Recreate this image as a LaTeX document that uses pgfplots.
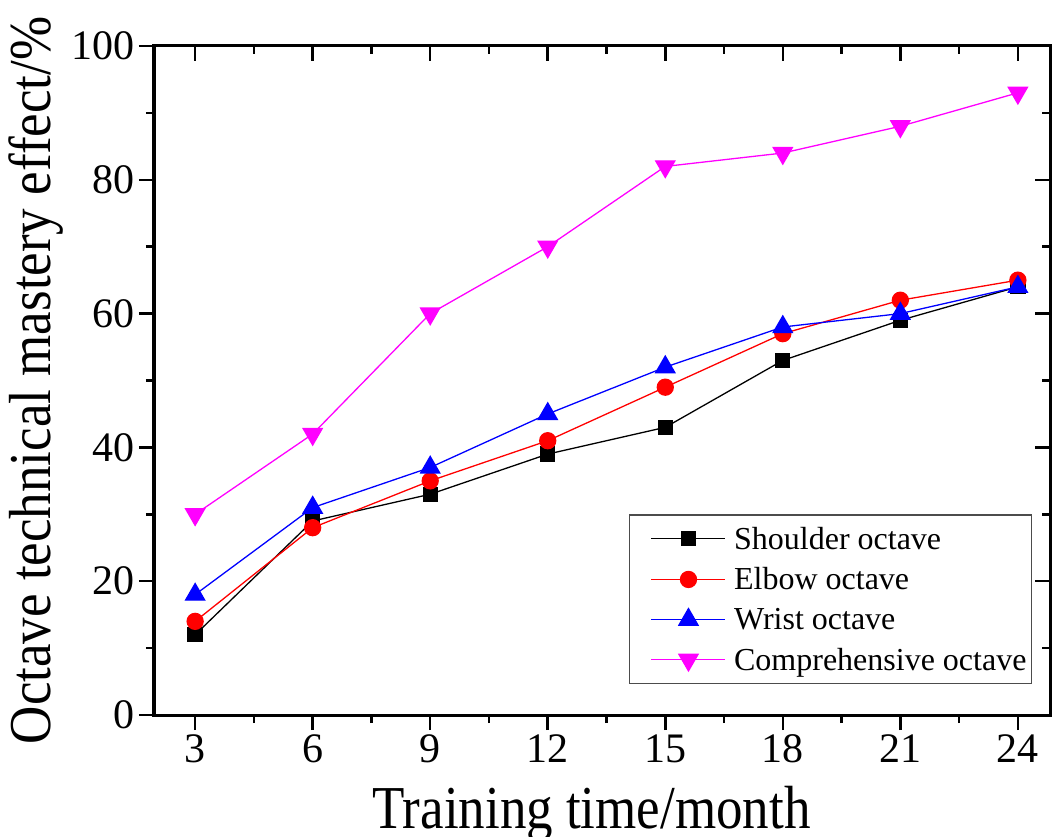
\documentclass[border=0pt]{standalone}
\usepackage{fontspec}
\setmainfont{Liberation Serif}
\usepackage{pgfplots}
\pgfplotsset{compat=1.18}
\definecolor{mag}{RGB}{255,0,255}
\begin{document}
\begin{tikzpicture}
\pgfplotsset{
  base/.style={
    scale only axis, width=896pt, height=669pt,
    at={(0,0)}, anchor=south west,
    xmin=1.95, xmax=24.82, ymin=0, ymax=100,
    xtick={3,6,...,24}, ytick={0,20,...,100},
    minor x tick num=1, minor y tick num=1,
    major tick length=15pt, minor tick length=8pt,
    tick style={line width=2.5pt, black},
    line width=3pt,
    /pgf/number format/assume math mode=true,
    tick label style={font=\fontsize{42}{42}\selectfont},
  }
}
% mirrored ticks on top and right point inward
\begin{axis}[base, xtick pos=right, ytick pos=right, tick align=inside,
  xticklabels={}, yticklabels={}]
\end{axis}
\begin{axis}[base, xtick pos=left, ytick pos=left, tick align=outside,
  xlabel={\scalebox{1}[1.15]{Training time/month}},
  ylabel={\scalebox{1}[1.12]{Octave technical mastery effect/\%}},
  label style={font=\fontsize{53}{53}\selectfont},
  xlabel style={at={(axis description cs:0.4883,-0.169)}, anchor=base},
  ylabel style={at={(axis description cs:-0.115,0.5)}, anchor=base},
  legend cell align=left,
  legend style={at={(0.98,0.3)}, anchor=north east, draw=black!70, line width=1.2pt,
    font=\fontsize{32}{38}\selectfont, row sep=13pt, inner ysep=10pt},
  legend image code/.code={\path (-18pt,0pt) (80pt,0pt);
    \draw[mark repeat=2,mark phase=2] plot coordinates {(0pt,0pt)(37pt,0pt)(74pt,0pt)};},
]
\addplot[black, line width=1.3pt, mark=square*, mark size=7pt, mark options={fill=black}]
  coordinates {(3,12) (6,29) (9,33) (12,39) (15,43) (18,53) (21,59) (24,64)};
\addplot[red, line width=1.3pt, mark=*, mark size=8pt, mark options={fill=red}]
  coordinates {(3,14) (6,28) (9,35) (12,41) (15,49) (18,57) (21,62) (24,65)};
\addplot[blue, line width=1.3pt, mark=triangle*, mark size=11pt, mark options={fill=blue}]
  coordinates {(3,18) (6,31) (9,37) (12,45) (15,52) (18,58) (21,60) (24,64)};
\addplot[mag, line width=1.3pt, mark=triangle*, mark size=11pt, mark options={fill=mag, rotate=180}]
  coordinates {(3,30) (6,42) (9,60) (12,70) (15,82) (18,84) (21,88) (24,93)};
\legend{Shoulder octave, Elbow octave, Wrist octave, Comprehensive octave}
\end{axis}
\pgfresetboundingbox
\useasboundingbox (-154pt,-121pt) rectangle (898pt,715pt);
\end{tikzpicture}
\end{document}
